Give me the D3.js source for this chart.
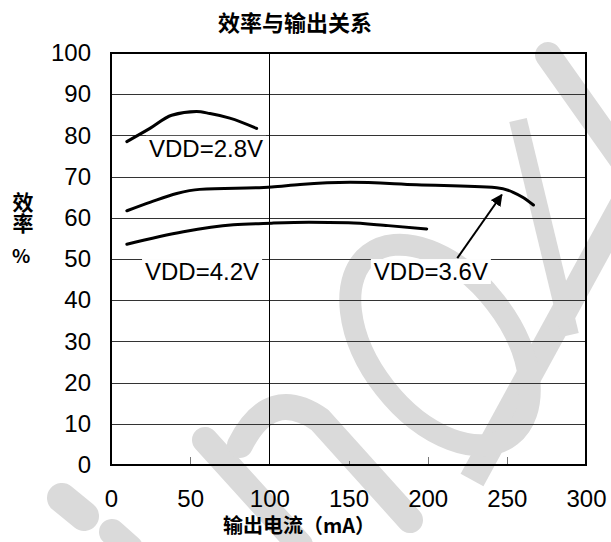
<!DOCTYPE html>
<html>
<head>
<meta charset="utf-8">
<script src="https://cdn.jsdelivr.net/npm/d3@7"></script>
<style>
  body { margin: 0; background: #fff; }
  .tick text { font-family: "Liberation Sans", Arial, sans-serif; }
</style>
</head>
<body>
<div id="chart"></div>
<script>
// data
const xTicks = [0, 50, 100, 150, 200, 250, 300];
const yTicks = [0, 10, 20, 30, 40, 50, 60, 70, 80, 90, 100];
const innerTicks = [50, 150, 200, 250];

const vdd28 = [[10, 78.5], [24.6, 81.7], [38.3, 84.9], [54, 85.8], [62.5, 85.3], [75, 84.2], [92, 81.7]];
const vdd36 = [[10, 61.7], [25, 63.8], [41.5, 65.9], [56, 66.9], [101.5, 67.5], [119.4, 68.1], [151, 68.6],
               [193, 68.0], [243.6, 67.3], [254, 66.2], [260, 65.0], [266.8, 63.1]];
const vdd42 = [[10, 53.6], [45.7, 56.6], [77.3, 58.3], [101.5, 58.7], [125, 58.9], [150, 58.8], [175, 58.1], [199.4, 57.3]];

const curveLabels = [
  { text: "VDD=2.8V", x: 24, y: 74.8 },
  { text: "VDD=4.2V", x: 21.5, y: 44.9 },
  { text: "VDD=3.6V", x: 166, y: 44.9 }
];
const arrow = { from: [218.7, 50.2], to: [246.8, 65.6] };

//////////////////////////////
// SVG AND GRAPH DIMENSIONS //
//////////////////////////////
const svgWidth = 611, svgHeight = 542;
const margin = { top: 53, right: 25, bottom: 77, left: 111 };
const width = svgWidth - margin.left - margin.right;
const height = svgHeight - margin.top - margin.bottom;

const root = d3.select("#chart").append("svg")
  .attr("width", svgWidth)
  .attr("height", svgHeight);

// watermark, light gray strokes behind the chart
const wm = root.append("g")
  .attr("fill", "none")
  .attr("stroke", "#dadada")
  .attr("stroke-width", 26)
  .attr("stroke-linecap", "round");
wm.append("path").attr("d", "M548,55 L640,185");
wm.append("path").attr("d", "M625,200 L472,480").attr("stroke-linecap", "butt");
wm.append("path").attr("d", "M518,120 L570,335").attr("stroke-width", 18).attr("stroke-linecap", "butt");
wm.append("ellipse").attr("cx", 440).attr("cy", 345).attr("rx", 115).attr("ry", 70)
  .attr("transform", "rotate(52,440,345)").attr("stroke-width", 22);
wm.append("path").attr("d", "M205,440 L300,545");
wm.append("path").attr("d", "M240,445 Q270,385 320,420 L410,520");
wm.append("path").attr("d", "M62,498 L84,516").attr("stroke-width", 30);
wm.append("path").attr("d", "M112,532 L130,548");

const svg = root.append("g")
  .attr("transform", "translate(" + margin.left + "," + margin.top + ")");

//////////
// AXES //
//////////
const x = d3.scaleLinear().domain([0, 300]).range([0, width]);
const y = d3.scaleLinear().domain([0, 100]).range([height, 0]);

// horizontal grid
svg.append("g").selectAll("line")
  .data(yTicks.filter(d => d > 0 && d < 100))
  .enter().append("line")
  .attr("x1", 0).attr("x2", width)
  .attr("y1", d => Math.round(y(d)) + 0.5).attr("y2", d => Math.round(y(d)) + 0.5)
  .attr("stroke", "#333").attr("stroke-width", 1);

// vertical grid at 100
svg.append("line")
  .attr("x1", Math.round(x(100)) + 0.5).attr("x2", Math.round(x(100)) + 0.5)
  .attr("y1", 0).attr("y2", height)
  .attr("stroke", "#000").attr("stroke-width", 1);

// small ticks inside the bottom edge
svg.append("g").selectAll("line")
  .data(innerTicks)
  .enter().append("line")
  .attr("x1", d => Math.round(x(d)) + 0.5).attr("x2", d => Math.round(x(d)) + 0.5)
  .attr("y1", height).attr("y2", d => d === 150 ? height - 4 : height - 8)
  .attr("stroke", "#777").attr("stroke-width", 1);

const xAxis = d3.axisBottom(x).tickValues(xTicks).tickSize(0).tickPadding(25);
const yAxis = d3.axisLeft(y).tickValues(yTicks).tickSize(0).tickPadding(20);

svg.append("g")
  .attr("transform", "translate(0," + height + ")")
  .call(xAxis)
  .call(g => g.select(".domain").remove())
  .selectAll("text").attr("font-size", 24).attr("fill", "#000");

svg.append("g")
  .call(yAxis)
  .call(g => g.select(".domain").remove())
  .selectAll("text").attr("font-size", 24).attr("fill", "#000");

// plot frame
svg.append("rect")
  .attr("x", 0).attr("y", 0).attr("width", width).attr("height", height)
  .attr("fill", "none").attr("stroke", "#000").attr("stroke-width", 2);

////////////
// CURVES //
////////////
const line = d3.line()
  .x(d => x(d[0]))
  .y(d => y(d[1]))
  .curve(d3.curveMonotoneX);

[vdd28, vdd36, vdd42].forEach(s => {
  svg.append("path")
    .datum(s)
    .attr("d", line)
    .attr("fill", "none")
    .attr("stroke", "#000")
    .attr("stroke-width", 3)
    .attr("stroke-linecap", "round")
    .attr("stroke-linejoin", "round");
});

// curve labels with white box behind
curveLabels.forEach(l => {
  const t = svg.append("text")
    .attr("x", x(l.x)).attr("y", y(l.y))
    .attr("font-family", "Liberation Sans, Arial, sans-serif")
    .attr("font-size", 24)
    .attr("fill", "#000")
    .text(l.text);
  const bb = t.node().getBBox();
  svg.insert("rect", function () { return t.node(); })
    .attr("x", bb.x - 3).attr("y", bb.y + 1)
    .attr("width", bb.width + 6).attr("height", bb.height - 2)
    .attr("fill", "#fff");
});

// arrow to the 3.6V curve
svg.append("defs").append("marker")
  .attr("id", "head")
  .attr("viewBox", "0 0 10 10")
  .attr("refX", 9).attr("refY", 5)
  .attr("markerWidth", 6).attr("markerHeight", 6)
  .attr("orient", "auto")
  .append("path").attr("d", "M0,0 L10,5 L0,10 z").attr("fill", "#000");

svg.append("line")
  .attr("x1", x(arrow.from[0])).attr("y1", y(arrow.from[1]))
  .attr("x2", x(arrow.to[0])).attr("y2", y(arrow.to[1]))
  .attr("stroke", "#000").attr("stroke-width", 2)
  .attr("marker-end", "url(#head)");

////////////
// TITLES //
////////////
const cjk = "'Noto Sans CJK SC', sans-serif";

root.append("text")
  .attr("x", 295).attr("y", 31)
  .attr("text-anchor", "middle")
  .attr("font-family", cjk).attr("font-weight", "bold")
  .attr("font-size", 22)
  .text("效率与输出关系");

root.append("text")
  .attr("x", 299).attr("y", 533)
  .attr("text-anchor", "middle")
  .attr("font-family", cjk).attr("font-weight", "bold")
  .attr("font-size", 20)
  .text("输出电流（mA）");

// y axis title, written top to bottom
root.append("text")
  .attr("x", 23).attr("y", 192)
  .attr("writing-mode", "tb")
  .attr("font-family", cjk).attr("font-weight", "bold")
  .attr("font-size", 21)
  .text("效率");

root.append("text")
  .attr("x", 12).attr("y", 263)
  .attr("font-family", cjk).attr("font-weight", "bold")
  .attr("font-size", 19)
  .text("%");
</script>
</body>
</html>
